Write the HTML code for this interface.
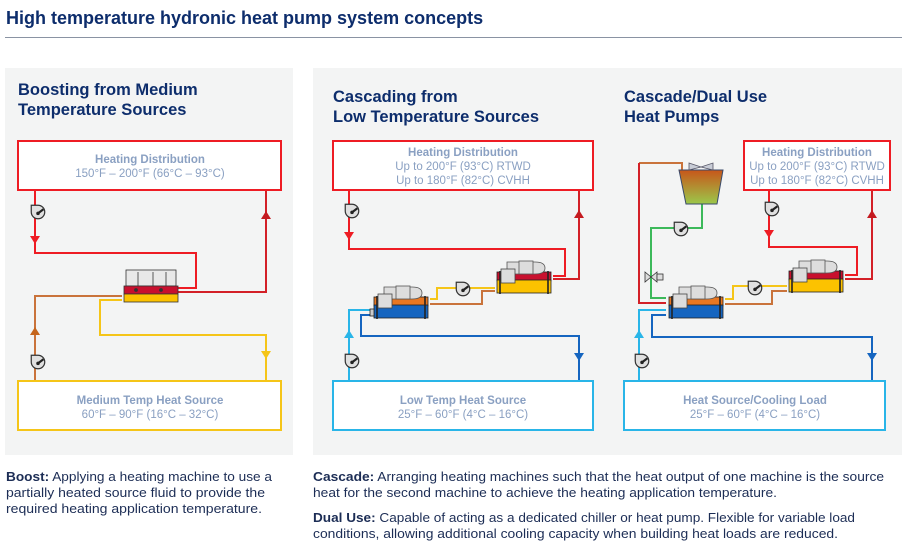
<!DOCTYPE html>
<html><head><meta charset="utf-8"><style>
html,body{margin:0;padding:0;background:#fff;}
svg{display:block;}
.t{font-family:"Liberation Sans",sans-serif;font-weight:bold;fill:#0d2d6c;}
.bl{font-family:"Liberation Sans",sans-serif;font-size:11.5px;fill:#8aa0c2;text-anchor:middle;}
.bd{font-weight:bold;}
.ft{font-family:"Liberation Sans Narrow","Liberation Sans",sans-serif;font-size:13px;fill:#1c2d55;}
</style></head><body>
<svg width="902" height="547" viewBox="0 0 902 547" xmlns="http://www.w3.org/2000/svg">
<defs>
<linearGradient id="tw" x1="0" y1="0" x2="0" y2="1"><stop offset="0" stop-color="#c8561a"/><stop offset="1" stop-color="#9bc84a"/></linearGradient>
<g id="pump" transform="scale(1.35)"><path d="M-5,-5 h5 a5,5 0 1,1 -5,5 z" fill="#e0e0e0" stroke="#333" stroke-width="0.9"/><line x1="0" y1="1" x2="4" y2="-2" stroke="#222" stroke-width="1.6"/><circle cx="0" cy="1" r="1.3" fill="#222"/></g>
</defs>
<text x="6" y="24" class="t" font-size="18">High temperature hydronic heat pump system concepts</text>
<line x1="5" y1="37.5" x2="902" y2="37.5" stroke="#8a93a3" stroke-width="1"/>
<rect x="5" y="68" width="288" height="387" fill="#f3f4f4"/>
<rect x="313" y="68" width="589" height="387" fill="#f3f4f4"/>

<!-- LEFT PANEL -->
<text x="18" y="95" class="t" font-size="16.5">Boosting from Medium</text>
<text x="18" y="115" class="t" font-size="16.5">Temperature Sources</text>
<g fill="none" stroke-width="2">
<polyline points="35,190 35,253 196,253 196,288 176,288" stroke="#ee1c24"/>
<polyline points="176,292 266,292 266,190" stroke="#d32027"/>
<polyline points="122,296 35,296 35,381" stroke="#c9733b"/>
<polyline points="122,300 100,300 100,335 266,335 266,381" stroke="#f5c518"/>
</g>
<rect x="18" y="141" width="263" height="49" fill="#fff" stroke="#ee1c24" stroke-width="2"/>
<text x="150" y="163" class="bl bd">Heating Distribution</text>
<text x="150" y="177" class="bl">150°F – 200°F (66°C – 93°C)</text>
<rect x="18" y="381" width="263" height="49" fill="#fff" stroke="#f5c518" stroke-width="2"/>
<text x="150" y="404" class="bl bd">Medium Temp Heat Source</text>
<text x="150" y="418" class="bl">60°F – 90°F (16°C – 32°C)</text>
<use href="#pump" x="38" y="212"/><use href="#pump" x="38" y="362"/>
<path d="M30,236 h10 l-5,8z" fill="#ee1c24"/>
<path d="M261,219 h10 l-5,-8z" fill="#c41a20"/>
<path d="M30,335 h10 l-5,-8z" fill="#c5651c"/>
<path d="M261,351 h10 l-5,8z" fill="#f5c518"/>
<!-- boost machine -->
<g stroke="#333" stroke-width="0.8">
<rect x="126" y="270" width="50" height="16" fill="#e8e8e8"/>
<line x1="138" y1="272" x2="138" y2="286"/><line x1="153" y1="272" x2="153" y2="286"/><line x1="166" y1="272" x2="166" y2="286"/>
<rect x="124" y="286" width="54" height="8" fill="#c8102e"/>
<rect x="124" y="294" width="54" height="8" fill="#fcc200"/>
<circle cx="136" cy="290" r="1.5" fill="#333"/><circle cx="161" cy="290" r="1.5" fill="#333"/>
</g>

<!-- MIDDLE PANEL -->
<text x="333" y="102" class="t" font-size="16.5">Cascading from</text>
<text x="333" y="122" class="t" font-size="16.5">Low Temperature Sources</text>
<g fill="none" stroke-width="2">
<polyline points="349,190 349,249 565,249 565,276 553,276" stroke="#ee1c24"/>
<polyline points="553,279 579,279 579,190" stroke="#d32027"/>
<polyline points="430,299 437,299 437,288 495,288" stroke="#f5c518"/>
<polyline points="430,304 482,304 482,291 495,291" stroke="#c9733b"/>
<polyline points="372,310 349,310 349,381" stroke="#29b5e8"/>
<polyline points="372,315 361,315 361,336 579,336 579,381" stroke="#1565c0"/>
</g>
<rect x="333" y="141" width="260" height="49" fill="#fff" stroke="#ee1c24" stroke-width="2"/>
<text x="463" y="156" class="bl bd">Heating Distribution</text>
<text x="463" y="170" class="bl">Up to 200°F (93°C) RTWD</text>
<text x="463" y="184" class="bl">Up to 180°F (82°C) CVHH</text>
<rect x="333" y="381" width="260" height="49" fill="#fff" stroke="#29b5e8" stroke-width="2"/>
<text x="463" y="404" class="bl bd">Low Temp Heat Source</text>
<text x="463" y="418" class="bl">25°F – 60°F (4°C – 16°C)</text>
<use href="#pump" x="352" y="211"/><use href="#pump" x="352" y="361"/><use href="#pump" x="463" y="289"/>
<path d="M344,232 h10 l-5,8z" fill="#ee1c24"/>
<path d="M574,218 h10 l-5,-8z" fill="#c41a20"/>
<path d="M344,338 h10 l-5,-8z" fill="#29b5e8"/>
<path d="M574,353 h10 l-5,8z" fill="#1565c0"/>

<!-- RIGHT PANEL -->
<text x="624" y="102" class="t" font-size="16.5">Cascade/Dual Use</text>
<text x="624" y="122" class="t" font-size="16.5">Heat Pumps</text>
<g fill="none" stroke-width="2">
<polyline points="769,190 769,247 857,247 857,275 845,275" stroke="#ee1c24"/>
<polyline points="845,279 872,279 872,190" stroke="#d32027"/>
<polyline points="682,170 682,163 639,163" stroke="#c9733b"/>
<polyline points="639,163 639,303 666,303" stroke="#d32027"/>
<polyline points="702,204 702,228 651,228 651,298 666,298" stroke="#3cb95a"/>
<polyline points="725,299 733,299 733,286 787,286" stroke="#f5c518"/>
<polyline points="725,304 772,304 772,291 787,291" stroke="#c9733b"/>
<polyline points="666,310 639,310 639,381" stroke="#29b5e8"/>
<polyline points="666,315 652,315 652,337 872,337 872,381" stroke="#1565c0"/>
</g>
<path d="M679,170 H723 L717,204 H686 Z" fill="url(#tw)" stroke="#3a4a6a" stroke-width="1"/>
<path d="M689,163 L701,167 L713,163 V170 L701,167 L689,170Z" fill="#c8ccd6" stroke="#556" stroke-width="0.8"/>
<g stroke="#333" stroke-width="0.8"><path d="M645,272 l6,5 l-6,5z M657,272 l-6,5 l6,5z" fill="#ddd"/><rect x="657" y="274" width="6" height="6" fill="#ddd"/></g>
<rect x="744" y="141" width="146" height="49" fill="#fff" stroke="#ee1c24" stroke-width="2"/>
<text x="817" y="156" class="bl bd">Heating Distribution</text>
<text x="817" y="170" class="bl">Up to 200°F (93°C) RTWD</text>
<text x="817" y="184" class="bl">Up to 180°F (82°C) CVHH</text>
<rect x="624" y="381" width="261" height="49" fill="#fff" stroke="#29b5e8" stroke-width="2"/>
<text x="755" y="404" class="bl bd">Heat Source/Cooling Load</text>
<text x="755" y="418" class="bl">25°F – 60°F (4°C – 16°C)</text>
<use href="#pump" x="772" y="209"/><use href="#pump" x="642" y="361"/><use href="#pump" x="681" y="229"/><use href="#pump" x="755" y="288"/>
<path d="M764,230 h10 l-5,8z" fill="#ee1c24"/>
<path d="M867,218 h10 l-5,-8z" fill="#c41a20"/>
<path d="M634,338 h10 l-5,-8z" fill="#29b5e8"/>
<path d="M867,353 h10 l-5,8z" fill="#1565c0"/>

<!-- machines -->
<g transform="translate(372,297)" stroke="#222" stroke-width="0.8">
<rect x="2" y="0" width="54" height="9" fill="#e87722"/>
<rect x="2" y="8" width="54" height="13" fill="#1565c0"/>
<line x1="5" y1="-1" x2="5" y2="22" stroke-width="1.6"/><line x1="53" y1="-1" x2="53" y2="22" stroke-width="1.6"/>
<path d="M12,-10 H40 Q50,-10 50,-4 Q50,2 40,2 H12Z" fill="#ddd" stroke="#555"/>
<rect x="24" y="-11" width="14" height="13" fill="#ddd" stroke="#555"/>
<rect x="6" y="-3" width="14" height="14" fill="#ddd" stroke="#444"/>
<rect x="-2" y="12" width="4" height="7" fill="#ccc"/>
</g>
<g transform="translate(495,272)" stroke="#222" stroke-width="0.8">
<rect x="2" y="0" width="54" height="9" fill="#c8102e"/>
<rect x="2" y="8" width="54" height="13" fill="#fcc200"/>
<line x1="5" y1="-1" x2="5" y2="22" stroke-width="1.6"/><line x1="53" y1="-1" x2="53" y2="22" stroke-width="1.6"/>
<path d="M12,-10 H40 Q50,-10 50,-4 Q50,2 40,2 H12Z" fill="#ddd" stroke="#555"/>
<rect x="24" y="-11" width="14" height="13" fill="#ddd" stroke="#555"/>
<rect x="6" y="-3" width="14" height="14" fill="#ddd" stroke="#444"/>
</g>
<g transform="translate(667,297)" stroke="#222" stroke-width="0.8">
<rect x="2" y="0" width="54" height="9" fill="#e87722"/>
<rect x="2" y="8" width="54" height="13" fill="#1565c0"/>
<line x1="5" y1="-1" x2="5" y2="22" stroke-width="1.6"/><line x1="53" y1="-1" x2="53" y2="22" stroke-width="1.6"/>
<path d="M12,-10 H40 Q50,-10 50,-4 Q50,2 40,2 H12Z" fill="#ddd" stroke="#555"/>
<rect x="24" y="-11" width="14" height="13" fill="#ddd" stroke="#555"/>
<rect x="6" y="-3" width="14" height="14" fill="#ddd" stroke="#444"/>
</g>
<g transform="translate(787,271)" stroke="#222" stroke-width="0.8">
<rect x="2" y="0" width="54" height="9" fill="#c8102e"/>
<rect x="2" y="8" width="54" height="13" fill="#fcc200"/>
<line x1="5" y1="-1" x2="5" y2="22" stroke-width="1.6"/><line x1="53" y1="-1" x2="53" y2="22" stroke-width="1.6"/>
<path d="M12,-10 H40 Q50,-10 50,-4 Q50,2 40,2 H12Z" fill="#ddd" stroke="#555"/>
<rect x="24" y="-11" width="14" height="13" fill="#ddd" stroke="#555"/>
<rect x="6" y="-3" width="14" height="14" fill="#ddd" stroke="#444"/>
</g>

<!-- footer text -->
<text x="6" y="481" class="ft" textLength="266" lengthAdjust="spacingAndGlyphs"><tspan font-weight="bold">Boost:</tspan> Applying a heating machine to use a</text>
<text x="6" y="497" class="ft" textLength="259" lengthAdjust="spacingAndGlyphs">partially heated source fluid to provide the</text>
<text x="6" y="513" class="ft" textLength="256" lengthAdjust="spacingAndGlyphs">required heating application temperature.</text>
<text x="313" y="481" class="ft" textLength="571" lengthAdjust="spacingAndGlyphs"><tspan font-weight="bold">Cascade:</tspan> Arranging heating machines such that the heat output of one machine is the source</text>
<text x="313" y="497" class="ft" textLength="464" lengthAdjust="spacingAndGlyphs">heat for the second machine to achieve the heating application temperature.</text>
<text x="313" y="522" class="ft" textLength="542" lengthAdjust="spacingAndGlyphs"><tspan font-weight="bold">Dual Use:</tspan> Capable of acting as a dedicated chiller or heat pump. Flexible for variable load</text>
<text x="313" y="538" class="ft" textLength="525" lengthAdjust="spacingAndGlyphs">conditions, allowing additional cooling capacity when building heat loads are reduced.</text>
</svg>
</body></html>
